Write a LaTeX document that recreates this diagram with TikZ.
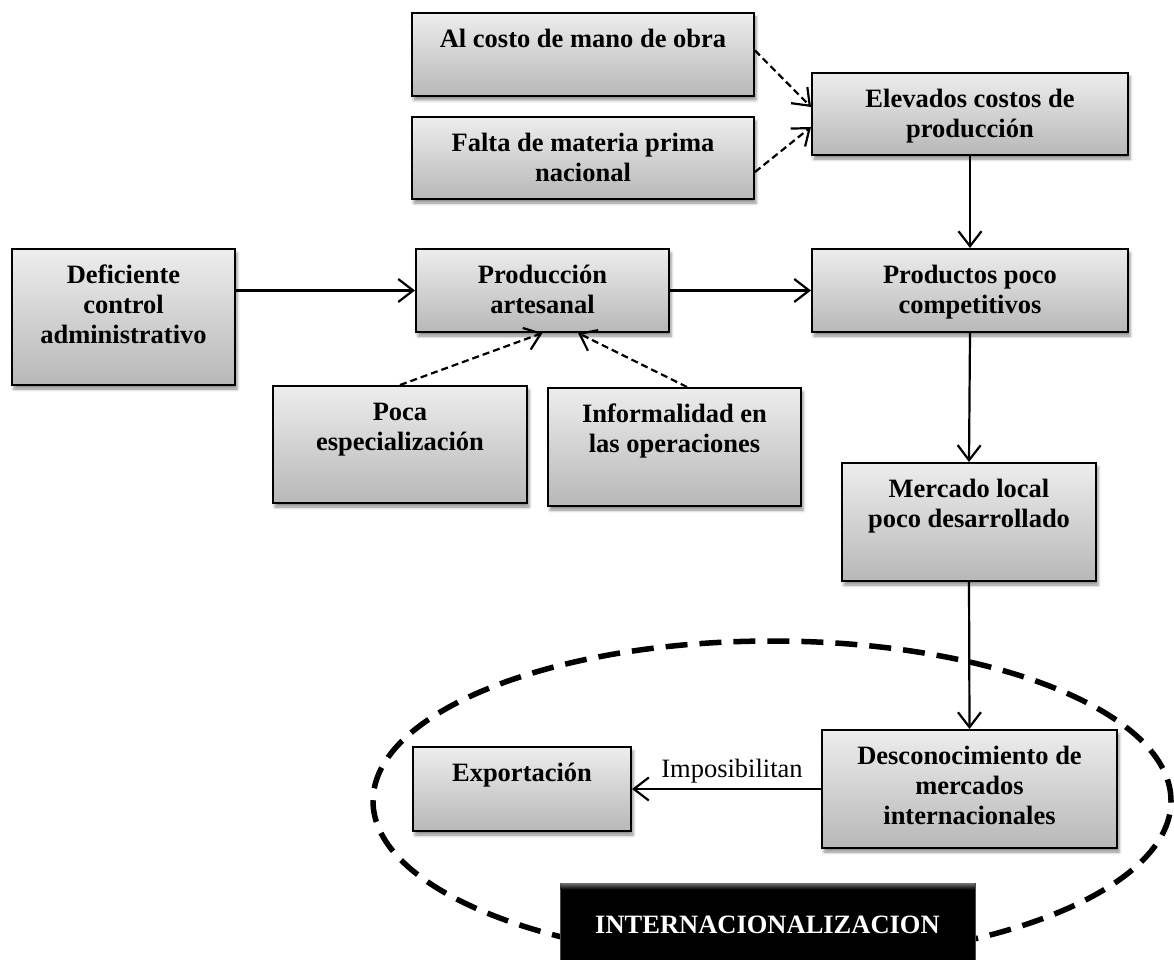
\documentclass[tikz,border=0pt]{standalone}
\usepackage{fontspec}
\setmainfont{Liberation Serif}
\usetikzlibrary{arrows.meta,shadows.blur}
\begin{document}
\begin{tikzpicture}[x=1pt,y=-1pt,
  cbox/.style={draw=black, line width=2pt, top color=black!7, bottom color=black!28, inner sep=0pt,
    blur shadow={shadow xshift=2pt, shadow yshift=-4pt, shadow blur radius=3pt, shadow opacity=45}},
  txt/.style={anchor=north, inner sep=0pt, align=center, font=\bfseries\fontsize{26.5pt}{30pt}\selectfont},
  arr/.style={line width=2.2pt, -{Straight Barb[length=15pt,width=23pt,line width=2.2pt]}},
  darr/.style={arr, dash pattern=on 7pt off 4pt},
  ring/.style={line width=5.5pt, dash pattern=on 22pt off 12pt}]
\useasboundingbox (0,0) rectangle (1174,960);

% dashed ellipse
\draw[ring] (772,801) ellipse [x radius=399pt, y radius=160pt];

% boxes
\node[cbox, minimum width=342pt, minimum height=83pt] (alcosto) at (583,54.5) {};
\node[cbox, minimum width=342pt, minimum height=82pt] (falta) at (583,158) {};
\node[cbox, minimum width=316pt, minimum height=82pt] (elevados) at (970,114) {};
\node[cbox, minimum width=223pt, minimum height=136pt] (deficiente) at (123.5,317) {};
\node[cbox, minimum width=253pt, minimum height=83pt] (produccion) at (542.5,290.5) {};
\node[cbox, minimum width=316pt, minimum height=83pt] (productos) at (970,290.5) {};
\node[cbox, minimum width=254pt, minimum height=117pt] (poca) at (400,444.5) {};
\node[cbox, minimum width=253pt, minimum height=118pt] (informalidad) at (674.5,447) {};
\node[cbox, minimum width=254pt, minimum height=118pt] (mercado) at (969,522) {};
\node[cbox, minimum width=218pt, minimum height=84pt] (exportacion) at (522,789) {};
\node[cbox, minimum width=295pt, minimum height=118pt] (desconoc) at (969.5,789) {};
\node[draw=black!70, line width=1pt, fill=black, inner sep=0pt, minimum width=415pt, minimum height=85pt] (internac) at (767.5,925.5) {};
\shade[top color=black!55, bottom color=black] ([xshift=1pt,yshift=-0.5pt]internac.north west) rectangle ([xshift=-1pt,yshift=-7pt]internac.north east);

% texts
\node[txt] (t-alcosto) at ([yshift=-14pt]alcosto.north) {\strut Al costo de mano de obra};
\node[txt] (t-falta) at ([yshift=-14pt]falta.north) {\strut Falta de materia prima\\nacional};
\node[txt] (t-elevados) at ([yshift=-14pt]elevados.north) {\strut Elevados costos de\\producción};
\node[txt] (t-deficiente) at ([yshift=-14pt]deficiente.north) {\strut Deficiente\\control\\administrativo};
\node[txt] (t-produccion) at ([yshift=-14pt]produccion.north) {\strut Producción\\artesanal};
\node[txt] (t-productos) at ([yshift=-14pt]productos.north) {\strut Productos poco\\competitivos};
\node[txt] (t-poca) at ([yshift=-14pt]poca.north) {\strut Poca\\especialización};
\node[txt] (t-informalidad) at ([yshift=-14pt]informalidad.north) {\strut Informalidad en\\las operaciones};
\node[txt] (t-mercado) at ([yshift=-14pt]mercado.north) {\strut Mercado local\\poco desarrollado};
\node[txt] (t-exportacion) at ([yshift=-14pt]exportacion.north) {\strut Exportación};
\node[txt] (t-desconoc) at ([yshift=-14pt]desconoc.north) {\strut Desconocimiento de\\mercados\\internacionales};
\node[anchor=base, inner sep=0pt, text=white, font=\bfseries\fontsize{26.5pt}{30pt}\selectfont] (t-internac) at ([yshift=-51pt]internac.north) {INTERNACIONALIZACION};

% connectors
\draw[arr] (deficiente.east |- produccion.west) -- (produccion.west);
\draw[arr] (produccion.east) -- (productos.west);
\draw[arr] (elevados.south) -- (productos.north);
\draw[arr] (productos.south) -- (mercado.north);
\draw[arr] (mercado.south) -- (desconoc.north);
\draw[arr] (desconoc.west) -- (exportacion.east);
\node[anchor=base, inner sep=0pt, font=\fontsize{26.5pt}{30pt}\selectfont] (lbl) at (732,777) {Imposibilitan};

\draw[darr] ([yshift=4pt]alcosto.east) -- ([yshift=7pt]elevados.west);
\draw[darr] ([yshift=-14pt]falta.east) -- ([yshift=-13pt]elevados.west);
\draw[darr] (poca.north) -- (produccion.south);
\draw[darr] ([xshift=12.5pt]informalidad.north) -- ([xshift=35.5pt]produccion.south);
\end{tikzpicture}
\end{document}
